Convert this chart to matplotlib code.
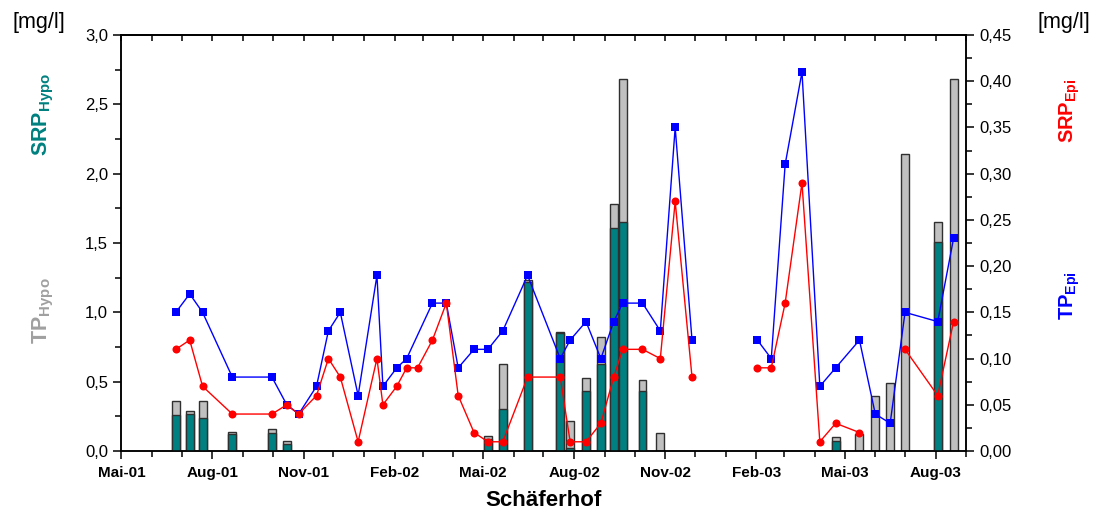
import numpy as np
import pandas as pd
import matplotlib
matplotlib.use("Agg")
import matplotlib.pyplot as plt
import matplotlib.dates as mdates
from matplotlib.ticker import MultipleLocator, FuncFormatter

plt.rcParams["font.family"] = ["Liberation Sans", "DejaVu Sans"]
plt.rcParams["mathtext.fontset"] = "custom"
plt.rcParams["mathtext.rm"] = "Liberation Sans"
plt.rcParams["mathtext.bf"] = "Liberation Sans:bold"

# sampling dates (Schäferhof)
dates = [
    "2001-06-25", "2001-07-09", "2001-07-22", "2001-08-21", "2001-09-30",
    "2001-10-15", "2001-10-27", "2001-11-14", "2001-11-26", "2001-12-08",
    "2001-12-26", "2002-01-14", "2002-01-20", "2002-02-03", "2002-02-13",
    "2002-02-24", "2002-03-11", "2002-03-25", "2002-04-06", "2002-04-22",
    "2002-05-06", "2002-05-21", "2002-06-15", "2002-07-18", "2002-07-28",
    "2002-08-13", "2002-08-28", "2002-09-10", "2002-09-19", "2002-10-09",
    "2002-10-27", "2002-11-11", "2002-11-28", "2003-02-02", "2003-02-16",
    "2003-03-02", "2003-03-19", "2003-04-06", "2003-04-22", "2003-05-16",
    "2003-06-01", "2003-06-16", "2003-07-01", "2003-08-03", "2003-08-19",
]
nan = np.nan

# epilimnion [mg/l], right axis
tp_epi = [
    0.15, 0.17, 0.15, 0.08, 0.08, 0.05, 0.04, 0.07, 0.13, 0.15,
    0.06, 0.19, 0.07, 0.09, 0.10, nan, 0.16, 0.16, 0.09, 0.11,
    0.11, 0.13, 0.19, 0.10, 0.12, 0.14, 0.10, 0.14, 0.16, 0.16,
    0.13, 0.35, 0.12, 0.12, 0.10, 0.31, 0.41, 0.07, 0.09, 0.12,
    0.04, 0.03, 0.15, 0.14, 0.23,
]
srp_epi = [
    0.11, 0.12, 0.07, 0.04, 0.04, 0.05, 0.04, 0.06, 0.10, 0.08,
    0.01, 0.10, 0.05, 0.07, 0.09, 0.09, 0.12, 0.16, 0.06, 0.02,
    0.01, 0.01, 0.08, 0.08, 0.01, 0.01, 0.03, 0.08, 0.11, 0.11,
    0.10, 0.27, 0.08, 0.09, 0.09, 0.16, 0.29, 0.01, 0.03, 0.02,
    nan, nan, 0.11, 0.06, 0.14,
]

# hypolimnion [mg/l], left axis
tp_hypo = [
    0.36, 0.29, 0.36, 0.14, 0.16, 0.07, nan, nan, nan, nan,
    nan, nan, nan, nan, nan, nan, nan, nan, nan, nan,
    0.11, 0.63, 1.23, 0.86, 0.22, 0.53, 0.82, 1.78, 2.68, 0.51,
    0.13, nan, nan, nan, nan, nan, nan, nan, 0.10, 0.12,
    0.40, 0.49, 2.14, 1.65, 2.68,
]
srp_hypo = [
    0.26, 0.27, 0.24, 0.12, 0.13, 0.05, nan, nan, nan, nan,
    nan, nan, nan, nan, nan, nan, nan, nan, nan, nan,
    0.09, 0.30, 1.22, 0.85, 0.02, 0.43, 0.63, 1.61, 1.65, 0.43,
    nan, nan, nan, nan, nan, nan, nan, nan, 0.07, nan,
    nan, nan, nan, 1.51, nan,
]

month_names = {2: "Feb", 5: "Mai", 8: "Aug", 11: "Nov"}

df = pd.DataFrame({
    "date": pd.to_datetime(dates),
    "tp_epi": tp_epi, "srp_epi": srp_epi,
    "tp_hypo": tp_hypo, "srp_hypo": srp_hypo,
})

MAX_GAP_DAYS = 42


def plot_epi(ax, col, color, marker):
    d = df[["date", col]].dropna()
    seg = (d["date"].diff().dt.days > MAX_GAP_DAYS).cumsum()
    for _, part in d.groupby(seg):
        ax.plot(part["date"], part[col], color=color, marker=marker,
                markersize=5.8, linewidth=1.0, markeredgewidth=0)


fig = plt.figure(figsize=(10.98, 5.18), dpi=100)
ax = fig.add_axes([0.1105, 0.1293, 0.7697, 0.8031])

bar_w = 8
ax.bar(df["date"], df["tp_hypo"], width=bar_w, color="#c0c0c0",
       edgecolor="#303030", linewidth=1.0, zorder=2)
ax.bar(df["date"], df["srp_hypo"], width=bar_w, color="#008080",
       edgecolor="#303030", linewidth=1.0, zorder=3)

ax.set_xlim(pd.Timestamp("2001-05-01"), pd.Timestamp("2003-09-01"))
ax.set_ylim(0, 3.0)
ax.yaxis.set_major_locator(MultipleLocator(0.5))
ax.yaxis.set_minor_locator(MultipleLocator(0.25))
ax.yaxis.set_major_formatter(FuncFormatter(lambda v, p: f"{v:.1f}".replace(".", ",")))

ax.xaxis.set_major_locator(mdates.MonthLocator(bymonth=[2, 5, 8, 11]))
ax.xaxis.set_minor_locator(mdates.MonthLocator())
ax.xaxis.set_major_formatter(FuncFormatter(
    lambda v, p: f"{month_names[mdates.num2date(v).month]}-{mdates.num2date(v):%y}"))

ax.tick_params(axis="y", which="major", direction="out", length=6, width=1.1, labelsize=12)
ax.tick_params(axis="y", which="minor", direction="out", length=4, width=1.1)
ax.tick_params(axis="x", which="major", direction="out", length=6, width=1.1,
               labelsize=11, pad=5)
ax.tick_params(axis="x", which="minor", direction="out", length=4, width=1.1)
for lbl in ax.get_xticklabels():
    lbl.set_fontweight("bold")
for sp in ax.spines.values():
    sp.set_linewidth(1.1)

# top axis: inward ticks, no labels
top = ax.secondary_xaxis("top")
top.xaxis.set_major_locator(mdates.MonthLocator(bymonth=[2, 5, 8, 11]))
top.xaxis.set_minor_locator(mdates.MonthLocator())
top.tick_params(which="both", direction="in", length=4, width=1.1, labeltop=False)
top.spines["top"].set_linewidth(1.1)

ax2 = ax.twinx()
plot_epi(ax2, "tp_epi", "#0000ff", "s")
plot_epi(ax2, "srp_epi", "#ff0000", "o")
ax2.set_ylim(0, 0.45)
ax2.yaxis.set_major_locator(MultipleLocator(0.05))
ax2.yaxis.set_minor_locator(MultipleLocator(0.025))
ax2.yaxis.set_major_formatter(FuncFormatter(lambda v, p: f"{v:.2f}".replace(".", ",")))
ax2.tick_params(axis="y", which="major", direction="out", length=6, width=1.1, labelsize=12)
ax2.tick_params(axis="y", which="minor", direction="out", length=4, width=1.1)
for sp in ax2.spines.values():
    sp.set_linewidth(1.1)

ax.set_xlabel("Schäferhof", fontsize=16, fontweight="bold", labelpad=7)

# unit labels and series labels
fig.text(0.035, 0.957, "[mg/l]", fontsize=15.5, ha="center", va="center")
fig.text(0.969, 0.957, "[mg/l]", fontsize=15.5, ha="center", va="center")
fig.text(0.040, 0.780, r"$\mathbf{SRP_{Hypo}}$", color="#008080", fontsize=15.5,
         rotation=90, ha="center", va="center")
fig.text(0.040, 0.400, r"$\mathbf{TP_{Hypo}}$", color="#a0a0a0", fontsize=15.5,
         rotation=90, ha="center", va="center")
fig.text(0.974, 0.786, r"$\mathbf{SRP_{Epi}}$", color="#ff0000", fontsize=14.5,
         rotation=90, ha="center", va="center")
fig.text(0.974, 0.429, r"$\mathbf{TP_{Epi}}$", color="#0000ff", fontsize=14.5,
         rotation=90, ha="center", va="center")

fig.savefig("out.png", dpi=100)
